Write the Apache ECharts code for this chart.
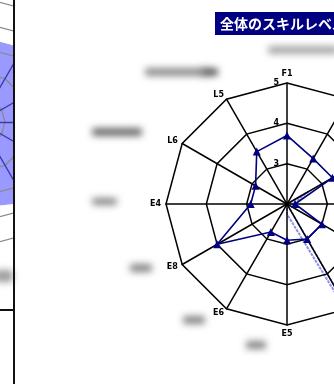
<!DOCTYPE html>
<html>
<head>
<meta charset="utf-8">
<script src="https://cdn.jsdelivr.net/npm/echarts@6/dist/echarts.min.js"></script>
<style>
html, body { margin: 0; padding: 0; background: #fff; }
#chart { width: 334px; height: 384px; }
</style>
</head>
<body>
<div id="chart"></div>
<script>
// Skill axes, counter-clockwise starting from the top axis
const skillNames = ['F1', 'L5', 'L6', 'E4', 'E8', 'E6', 'E5', 'E3', 'E2', 'E1', 'F3', 'F2'];
// Overall skill level per axis
const overallLevel = [3.7, 3.5, 2.9, 2.9, 4.0, 2.8, 2.9, 3.0, 3.0, 2.2, 3.3, 3.3];
// Secondary line (light blue)
const secondLevel = [2.0, 2.0, 2.0, 2.0, 2.0, 2.0, 2.25, 7.0, 2.0, 2.15, 2.6, 2.0];
// Level scale
const levelMin = 2;
const levelMax = 5;
const levelSteps = 3;

// Neighbouring team chart (left panel)
const teamNames = ['A1', 'A2', 'A3', 'A4', 'A5', 'A6', 'A7', 'A8', 'A9', 'A10', 'A11', 'A12'];
const teamLevel = [3.4, 3.5, 3.5, 3.5, 3.5, 3.5, 3.4, 3.7, 3.6, 3.6, 3.5, 3.4];
const teamMax = 5;

const chart = echarts.init(document.getElementById('chart'), null, { renderer: 'canvas' });

const indicators = skillNames.map((n, i) => {
  const ind = { name: n, min: levelMin, max: levelMax };
  if (i === 0) {
    ind.axisLabel = {
      show: true, showMinLabel: false, color: '#000', fontSize: 8,
      fontWeight: 'bold', fontFamily: 'DejaVu Sans', margin: 4,
      align: 'right', padding: [0, 4, 0, 0]
    };
  }
  return ind;
});

// soft grey smudges (blurred captions)
function smudge(x, y, w, h, color) {
  return {
    type: 'rect', silent: true, z: 101,
    shape: { x: x - 2000, y: y, width: w, height: h, r: 3 },
    style: { fill: '#000', shadowBlur: 7, shadowColor: color, shadowOffsetX: 2000 }
  };
}

const option = {
  backgroundColor: '#fff',
  animation: false,
  title: {
    text: '全体のスキルレベル',
    left: 215, top: 12,
    backgroundColor: '#000080',
    padding: [3, 6, 3, 5],
    textStyle: {
      color: '#fff', fontSize: 14, lineHeight: 17, fontWeight: 'bold',
      fontFamily: 'Noto Sans CJK JP'
    }
  },
  radar: [
    {
      center: [287, 204],
      radius: 121,
      startAngle: 90,
      shape: 'polygon',
      splitNumber: levelSteps,
      z: 1,
      indicator: indicators,
      axisName: { color: '#000', fontSize: 8, fontWeight: 'bold', fontFamily: 'DejaVu Sans' },
      nameGap: 5,
      axisLine: { lineStyle: { color: '#000', width: 1.5 } },
      splitLine: { lineStyle: { color: '#000', width: 1.5 } },
      splitArea: { show: false },
      axisTick: { show: false }
    },
    {
      center: [-20, 122],
      radius: 125,
      startAngle: 90,
      shape: 'polygon',
      splitNumber: 5,
      z: 3,
      indicator: teamNames.map(n => ({ name: n, min: 0, max: teamMax })),
      axisName: { show: false },
      axisLine: { lineStyle: { color: '#3c3ca8', width: 1.3 } },
      splitLine: { lineStyle: { color: '#8a8a8a', width: 1.3 } },
      splitArea: { show: false }
    }
  ],
  series: [
    {
      type: 'radar',
      radarIndex: 1,
      symbol: 'none',
      lineStyle: { color: '#9999ff', width: 1 },
      areaStyle: { color: '#9999ff', opacity: 1 },
      data: [{ value: teamLevel }]
    },
    {
      type: 'radar',
      radarIndex: 0,
      z: 0,
      symbol: 'none',
      lineStyle: { color: '#8f8fe8', width: 2, type: [3, 1] },
      data: [{ value: secondLevel }]
    },
    {
      type: 'radar',
      radarIndex: 0,
      z: 2,
      symbol: 'triangle',
      symbolSize: 8,
      itemStyle: { color: '#000080' },
      lineStyle: { color: '#000080', width: 1.6 },
      data: [{ value: overallLevel }]
    }
  ],
  graphic: [
    // mask the neighbouring chart beyond its frame
    { type: 'rect', silent: true, z: 100, shape: { x: 15, y: 0, width: 100, height: 384 }, style: { fill: '#fff' } },
    // frame of the neighbouring chart
    { type: 'line', silent: true, z: 102, shape: { x1: 14, y1: 0, x2: 14, y2: 384 }, style: { stroke: '#111', lineWidth: 2 } },
    { type: 'line', silent: true, z: 102, shape: { x1: 0, y1: 310, x2: 14, y2: 310 }, style: { stroke: '#111', lineWidth: 2 } },
    smudge(268, 46, 70, 8, 'rgba(150,150,150,0.85)'),
    smudge(145, 68, 60, 8, 'rgba(120,120,120,0.85)'),
    smudge(202, 68, 16, 8, 'rgba(70,70,70,0.9)'),
    smudge(92, 128, 50, 8, 'rgba(90,90,90,0.9)'),
    smudge(92, 198, 25, 7, 'rgba(110,110,110,0.85)'),
    smudge(130, 264, 22, 8, 'rgba(110,110,110,0.85)'),
    smudge(183, 316, 22, 8, 'rgba(110,110,110,0.85)'),
    smudge(246, 341, 20, 8, 'rgba(110,110,110,0.85)'),
    smudge(-6, 270, 19, 12, 'rgba(140,140,140,0.85)')
  ]
};

chart.setOption(option);
</script>
</body>
</html>
